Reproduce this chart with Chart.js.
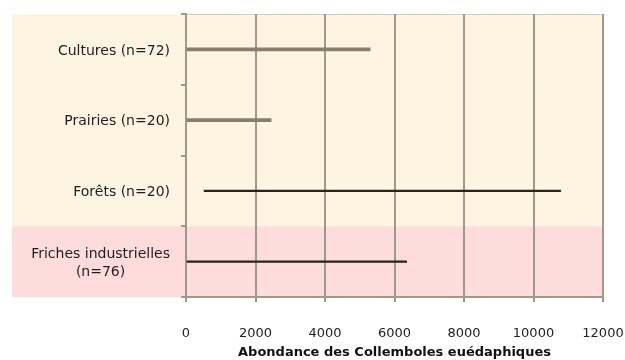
<!DOCTYPE html>
<html>
<head>
<meta charset="utf-8">
<script src="https://cdn.jsdelivr.net/npm/chart.js@4/dist/chart.umd.min.js"></script>
<style>
  body { margin: 0; background: #fff; }
  canvas { display: block; }
</style>
</head>
<body>
<canvas id="chart" width="625" height="360"></canvas>
<script>
// values
const categories = [['Cultures (n=72)'], ['Prairies (n=20)'], ['Forêts (n=20)'], ['Friches industrielles', '(n=76)']];
const lows = [0, 0, 520, 0];
const highs = [5300, 2450, 10780, 6350];
const xTicks = [0, 2000, 4000, 6000, 8000, 10000, 12000];
const xTitle = 'Abondance des Collemboles euédaphiques';

// styling per row
const thickRows = [true, true, false, false];
const bandColors = ['#fdf5e2', '#fdf5e2', '#fdf5e2', '#fddcdb'];

const gridColor = '#9e9a8a';

const thickData = categories.map((c, i) => thickRows[i] ? [lows[i], highs[i]] : null);
const thinData = categories.map((c, i) => thickRows[i] ? null : [lows[i], highs[i]]);

// background bands behind each category + top border
const bandsPlugin = {
  id: 'bands',
  beforeDraw(chart) {
    const { ctx, chartArea, scales } = chart;
    const y = scales.y;
    const step = y.getPixelForValue(1) - y.getPixelForValue(0);
    ctx.save();
    bandColors.forEach((col, i) => {
      const mid = y.getPixelForValue(i);
      ctx.fillStyle = col;
      ctx.fillRect(12, mid - step / 2, chartArea.right - 12, step);
    });
    ctx.strokeStyle = '#cfcfcf';
    ctx.lineWidth = 1;
    ctx.beginPath();
    ctx.moveTo(chartArea.left - 5, chartArea.top + 0.5);
    ctx.lineTo(chartArea.right, chartArea.top + 0.5);
    ctx.stroke();
    ctx.restore();
  }
};

// category labels: right aligned block, lines centered inside it
const labelsPlugin = {
  id: 'catLabels',
  afterDraw(chart) {
    const { ctx, scales } = chart;
    const y = scales.y;
    const right = 170;
    const lh = 18.5;
    ctx.save();
    ctx.font = '14px "DejaVu Sans"';
    ctx.fillStyle = '#1e1e1e';
    ctx.textBaseline = 'middle';
    ctx.textAlign = 'center';
    categories.forEach((lines, i) => {
      const w = Math.max(...lines.map(l => ctx.measureText(l).width));
      const cx = right - w / 2;
      const cy = y.getPixelForValue(i) + 1.5 - (lines.length - 1) * lh / 2;
      lines.forEach((l, k) => ctx.fillText(l, cx, cy + k * lh));
    });
    ctx.restore();
  }
};

new Chart(document.getElementById('chart'), {
  type: 'bar',
  data: {
    labels: categories,
    datasets: [
      {
        data: thickData,
        backgroundColor: '#857f6c',
        barThickness: 3,
        borderWidth: 0
      },
      {
        data: thinData,
        backgroundColor: '#26251c',
        barThickness: 1.5,
        borderWidth: 0
      }
    ]
  },
  options: {
    indexAxis: 'y',
    responsive: false,
    animation: false,
    grouped: false,
    layout: { padding: { top: 14, right: 0, left: 0, bottom: 0 } },
    plugins: {
      legend: { display: false },
      tooltip: { enabled: false }
    },
    scales: {
      x: {
        min: 0,
        max: 12000,
        afterBuildTicks: (scale) => { scale.ticks = xTicks.map(v => ({ value: v })); },
        afterFit: (scale) => {
          scale.height = 63;
          scale.paddingRight = 22;
          scale.paddingLeft = 0;
        },
        grid: { color: gridColor, lineWidth: 2, tickLength: 5 },
        border: { color: gridColor, width: 2 },
        ticks: {
          padding: 24,
          color: '#222',
          font: { family: 'DejaVu Sans', size: 13 },
          callback: (v) => String(v)
        },
        title: {
          display: true,
          text: xTitle,
          color: '#111',
          padding: { top: 0, bottom: 0 },
          font: { family: 'DejaVu Sans', size: 13, weight: 'bold' }
        }
      },
      y: {
        afterFit: (scale) => { scale.width = 186; },
        grid: { offset: true, drawOnChartArea: false, color: gridColor, lineWidth: 2, tickLength: 5 },
        border: { color: gridColor, width: 2 },
        ticks: { display: false }
      }
    }
  },
  plugins: [bandsPlugin, labelsPlugin]
});
</script>
</body>
</html>
